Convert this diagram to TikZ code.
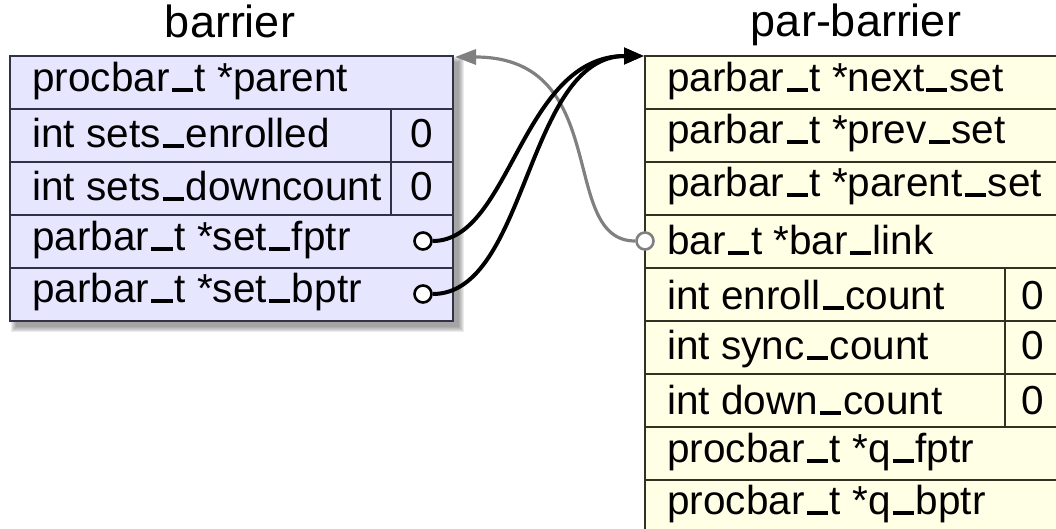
\documentclass[tikz,border=0pt]{standalone}
\usepackage{fontspec}
\setmainfont{Liberation Sans}
\usetikzlibrary{arrows.meta}
\newcommand{\us}{\kern0.05em\rule{0.52em}{0.09em}\kern0.05em}
\definecolor{lfill}{RGB}{230,230,255}
\definecolor{rfill}{RGB}{255,255,230}
\definecolor{lline}{RGB}{50,50,70}
\definecolor{rline}{RGB}{50,50,35}
\definecolor{gline}{RGB}{128,128,128}
\begin{document}
\begin{tikzpicture}[x=0.5pt,y=-0.5pt,
  lrow/.style={draw=lline,fill=lfill,line width=0.75pt,inner sep=0pt,outer sep=0pt,anchor=north west,minimum height=26.5pt},
  rrow/.style={draw=rline,fill=rfill,line width=0.75pt,inner sep=0pt,outer sep=0pt,anchor=north west,minimum height=26.5pt},
  txt/.style={anchor=base west,inner sep=0pt,font=\fontsize{20.25}{24}\selectfont},
  num/.style={anchor=base,inner sep=0pt,font=\fontsize{20.25}{24}\selectfont},
  ttl/.style={anchor=base,inner sep=0pt,font=\fontsize{22.5}{27}\selectfont},
  port/.style={circle,draw=black,fill=white,line width=1.3pt,minimum size=8.5pt,inner sep=0pt},
  gport/.style={circle,draw=gline,fill=white,line width=1.3pt,minimum size=8.5pt,inner sep=0pt},
  blink/.style={draw=black,line width=2pt,-{Triangle[length=10pt,width=8pt]}},
  glink/.style={draw=gline,line width=1.6pt,-{Triangle[length=10.5pt,width=7.5pt]}}]
\useasboundingbox (0,0) rectangle (1056,529);
\clip (0,0) rectangle (1056,529);
% shadow of left box
\foreach \k in {0,...,5}{
  \fill[black!70,opacity=0.11] (16-\k,62-\k) rectangle (459+\k,327+\k);
}
% titles
\node[ttl] (tl) at (230,38) {barrier};
\node[ttl] (tr) at (856,37) {par-barrier};
% left box
\node[lrow,minimum width=221.5pt] (l1) at (10,56) {};
\node[lrow,minimum width=190.5pt] (l2) at (10,109) {};
\node[lrow,minimum width=31pt] (l2v) at (391,109) {};
\node[lrow,minimum width=190.5pt] (l3) at (10,162) {};
\node[lrow,minimum width=31pt] (l3v) at (391,162) {};
\node[lrow,minimum width=221.5pt] (l4) at (10,215) {};
\node[lrow,minimum width=221.5pt] (l5) at (10,268) {};
\node[txt] (lt1) at (32,92) {procbar\us t *parent};
\node[txt] (lt2) at (32,148) {int sets\us enrolled};
\node[txt] (lt3) at (32,201) {int sets\us downcount};
\node[txt] (lt4) at (32,251) {parbar\us t *set\us fptr};
\node[txt] (lt5) at (32,303) {parbar\us t *set\us bptr};
\node[num] (ln2) at (422,148) {0};
\node[num] (ln3) at (422,201) {0};
% right box
\node[rrow,minimum width=220pt] (r1) at (645,56) {};
\node[rrow,minimum width=220pt] (r2) at (645,109) {};
\node[rrow,minimum width=220pt] (r3) at (645,162) {};
\node[rrow,minimum width=220pt] (r4) at (645,215) {};
\node[rrow,minimum width=180pt] (r5) at (645,268) {};
\node[rrow,minimum width=40pt] (r5v) at (1005,268) {};
\node[rrow,minimum width=180pt] (r6) at (645,321) {};
\node[rrow,minimum width=40pt] (r6v) at (1005,321) {};
\node[rrow,minimum width=180pt] (r7) at (645,374) {};
\node[rrow,minimum width=40pt] (r7v) at (1005,374) {};
\node[rrow,minimum width=220pt] (r8) at (645,427) {};
\node[rrow,minimum width=220pt] (r9) at (645,480) {};
\node[txt] (rt1) at (667,92) {parbar\us t *next\us set};
\node[txt] (rt2) at (667,144) {parbar\us t *prev\us set};
\node[txt] (rt3) at (667,197) {parbar\us t *parent\us set};
\node[txt] (rt4) at (667,255) {bar\us t *bar\us link};
\node[txt] (rt5) at (667,310) {int enroll\us count};
\node[txt] (rt6) at (667,360) {int sync\us count};
\node[txt] (rt7) at (667,415) {int down\us count};
\node[txt] (rt8) at (667,463) {procbar\us t *q\us fptr};
\node[txt] (rt9) at (667,515) {procbar\us t *q\us bptr};
\node[num] (rn5) at (1033,310) {0};
\node[num] (rn6) at (1033,360) {0};
\node[num] (rn7) at (1033,415) {0};
% ports
\node[port] (pf) at (423,241) {};
\node[port] (pb) at (423,294) {};
\node[gport] (pl) at (645,241) {};
\coordinate (rtop) at (644,56);
\coordinate (ltop) at (455,57);
% links
\draw[glink] (pl.west) .. controls +(-78,0) and +(159,0) .. (ltop);
\draw[blink] (pf.east) .. controls +(78,0) and +(-123,0) .. (rtop);
\draw[blink] (pb.east) .. controls +(95,0) and +(-118,0) .. (rtop);
\end{tikzpicture}
\end{document}
